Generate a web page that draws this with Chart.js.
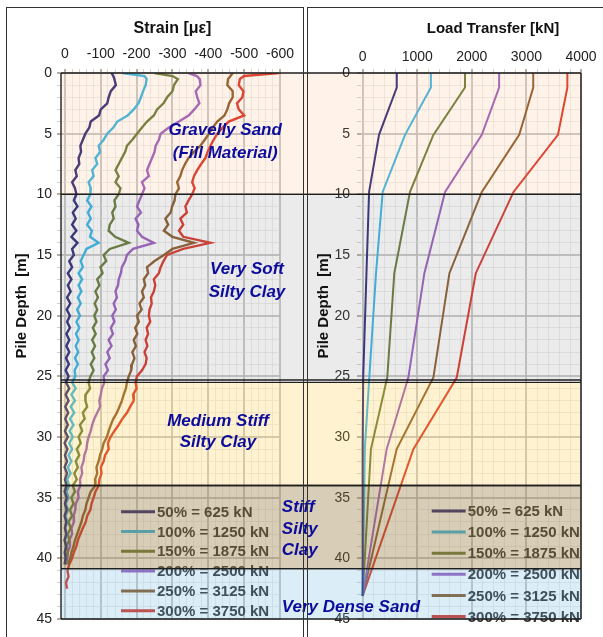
<!DOCTYPE html>
<html>
<head>
<meta charset="utf-8">
<script src="https://cdn.jsdelivr.net/npm/chart.js@4.4.1/dist/chart.umd.min.js"></script>
<style>
  body { margin: 0; background: #fff; width: 603px; height: 637px; overflow: hidden; position: relative; }
  #strainBox { position: absolute; left: 0; top: 0; width: 304px; height: 637px; }
  #loadBox { position: absolute; left: 270px; top: 0; width: 333px; height: 637px; }
  .frame { position: absolute; box-sizing: border-box; border: 1px solid #333; pointer-events: none; }
</style>
</head>
<body>
<div id="strainBox"><canvas id="strainChart"></canvas></div>
<div id="loadBox"><canvas id="loadChart"></canvas></div>
<div class="frame" style="left:6px;top:7px;width:298px;height:640px"></div>
<div class="frame" style="left:307px;top:7px;width:310px;height:640px"></div>
<script>
// ---- data ----
const seriesLabels = ['50% = 625 kN', '100% = 1250 kN', '150% = 1875 kN', '200% = 2500 kN', '250% = 3125 kN', '300% = 3750 kN'];
const seriesColors = ['#2d2a78', '#35b6e6', '#66793a', '#9a5ebf', '#8a5a2b', '#d8352a'];

// strain profile depths [m]
const strainDepth = [0, 0.25, 0.5, 1, 1.5, 2, 2.5, 3, 3.5, 4,
  4.5, 5, 5.5, 6, 6.5, 7, 7.5, 8, 8.5, 9,
  9.5, 10, 10.5, 11, 11.5, 12, 12.5, 13, 13.5, 14,
  14.5, 15, 15.5, 16, 16.5, 17, 17.5, 18, 18.5, 19,
  19.5, 20, 20.5, 21, 21.5, 22, 22.5, 23, 23.5, 24,
  24.5, 25, 25.5, 26, 26.5, 27, 27.5, 28, 28.5, 29,
  29.5, 30, 30.5, 31, 31.5, 32, 32.5, 33, 33.5, 34,
  34.5, 35, 35.5, 36, 36.5, 37, 37.5, 38, 38.5, 39,
  39.5, 40, 40.5, 41, 41.5, 42, 42.5];

// strain [microstrain]
const strain50 = [-130, -135, -138, -142, -128, -122, -118, -100, -95, -72,
  -68, -57, -50, -43, -45, -38, -40, -29, -33, -20,
  -28, -32, -25, -35, -22, -30, -20, -32, -18, -35,
  -20, -25, -12, -20, -8, -18, -8, -16, -6, -15,
  -5, -14, -6, -14, -4, -12, -4, -12, -3, -11,
  -2, -10, -3, -12, -2, -10, -1, -9, -1, -8,
  0, -8, 1, -7, 0, -6, 1, -6, 0, -5,
  1, -5, 0, -5, 1, -4, 0, -4, 1, -3,
  0, -2, 1];
const strain100 = [-160, -222, -228, -225, -218, -212, -205, -192, -175, -146,
  -135, -118, -108, -94, -98, -85, -90, -76, -80, -66,
  -72, -71, -62, -74, -64, -72, -62, -75, -70, -94,
  -60, -52, -44, -50, -38, -48, -38, -46, -36, -44,
  -34, -42, -32, -40, -31, -38, -30, -37, -28, -36,
  -27, -29, -20, -30, -18, -28, -16, -26, -14, -24,
  -13, -22, -12, -20, -10, -18, -8, -16, -6, -12,
  -4, -10, -2, -9, -1, -7, 0, -6, 0, -4,
  1, -2, 0];
const strain150 = [-250, -300, -315, -304, -300, -285, -275, -257, -248, -229,
  -215, -201, -188, -173, -168, -159, -150, -141, -150, -141,
  -155, -150, -138, -141, -132, -136, -125, -122, -140, -178,
  -125, -108, -115, -99, -105, -90, -96, -85, -92, -83,
  -90, -82, -88, -78, -86, -76, -84, -75, -82, -72,
  -80, -71, -66, -70, -58, -57, -62, -50, -55, -42,
  -48, -38, -44, -33, -40, -30, -36, -26, -33, -22,
  -28, -18, -24, -14, -20, -10, -16, -8, -12, -4,
  -8, -2, -4];
const strain200 = [-345, -368, -376, -378, -365, -369, -375, -361, -345, -318,
  -290, -267, -262, -253, -250, -243, -236, -229, -234, -215,
  -222, -215, -208, -201, -212, -197, -205, -201, -215, -248,
  -190, -173, -168, -159, -156, -150, -148, -141, -145, -136,
  -142, -132, -138, -128, -134, -122, -130, -118, -125, -113,
  -120, -108, -110, -103, -100, -96, -98, -90, -82, -76,
  -72, -66, -62, -60, -54, -52, -46, -48, -42, -43,
  -36, -38, -30, -29, -24, -25, -18, -20, -12, -14,
  -8, -7, -3];
const strain250 = [-468, -462, -455, -453, -468, -468, -458, -453, -445, -425,
  -412, -402, -390, -378, -360, -345, -335, -327, -322, -313,
  -318, -308, -306, -299, -295, -280, -288, -276, -300, -360,
  -300, -276, -250, -229, -232, -220, -224, -215, -220, -208,
  -214, -201, -206, -196, -202, -192, -198, -188, -194, -187,
  -185, -178, -173, -170, -164, -159, -152, -145, -135, -128,
  -122, -117, -108, -104, -98, -94, -88, -90, -84, -85,
  -72, -66, -60, -57, -50, -46, -40, -34, -28, -24,
  -18, -15, -8];
const strain300 = [-597, -500, -488, -485, -498, -495, -480, -485, -500, -457,
  -440, -425, -415, -406, -398, -392, -380, -369, -360, -355,
  -362, -355, -345, -336, -340, -322, -330, -318, -330, -406,
  -330, -285, -275, -267, -262, -248, -252, -248, -240, -242,
  -236, -234, -238, -228, -232, -225, -230, -222, -228, -225,
  -215, -201, -197, -200, -190, -192, -182, -173, -160, -150,
  -138, -127, -120, -122, -112, -108, -100, -102, -96, -94,
  -85, -80, -74, -71, -62, -58, -50, -43, -36, -32,
  -25, -20, -12, -7, -10, -3, -6];

// load transfer profile
const loadDepth = [0, 1.2, 5.1, 9.8, 16.5, 25.1, 31, 43.1];
const load50 = [625, 625, 300, 118, 70, 10, 0, 0];
const load100 = [1250, 1250, 776, 367, 245, 122, 40, 0];
const load150 = [1875, 1875, 1296, 868, 580, 451, 152, 0];
const load200 = [2500, 2500, 2183, 1510, 1131, 837, 440, 0];
const load250 = [3125, 3125, 2868, 2183, 1590, 1296, 624, 0];
const load300 = [3750, 3750, 3578, 2764, 2073, 1724, 929, 0];

// tick labels
const strainTicks = [0, -100, -200, -300, -400, -500, -600];
const loadTicks = [0, 1000, 2000, 3000, 4000];
const depthTicks = [0, 5, 10, 15, 20, 25, 30, 35, 40, 45];

// soil layers
const layerTop = [0, 10, 25.5, 34, 40.85];
const layerBottom = [10, 25.3, 34, 40.85, 45];
const layerFill = ['rgba(245,170,110,0.15)', 'rgba(128,128,128,0.16)', 'rgba(255,200,60,0.24)',
  'rgba(150,120,60,0.37)', 'rgba(100,180,220,0.23)'];

// ---- helpers ----
Chart.defaults.font.family = '"Liberation Sans", Arial, sans-serif';
Chart.defaults.color = '#222';

function steps(from, to, step) {
  const out = [];
  const n = Math.round((to - from) / step);
  for (let i = 0; i <= n; i++) out.push({ value: Math.round((from + i * step) * 100) / 100 });
  return out;
}

function toPoints(xs, ys) {
  return xs.map((v, i) => ({ x: v, y: ys[i] }));
}

function gridFor(majors) {
  const isMajor = c => c.tick && majors.includes(c.tick.value);
  return {
    color: c => isMajor(c) ? 'rgba(190,190,190,0.85)' : 'rgba(215,215,215,0.45)',
    lineWidth: c => isMajor(c) ? 2 : 1,
    tickColor: c => isMajor(c) ? '#b9ada1' : '#d8d0c6',
    tickLength: 4
  };
}

const depthScale = (width, pad) => ({
  type: 'linear', min: 0, max: 45, reverse: true,
  afterFit: s => { s.width = width; },
  afterBuildTicks: s => { s.ticks = steps(0, 45, 1); },
  ticks: {
    autoSkip: false, padding: pad, color: '#222', font: { size: 14 },
    callback: v => depthTicks.includes(v) ? String(v) : ''
  },
  grid: gridFor(depthTicks),
  border: { display: false }
});

function overlayPlugin(cfg) {
  return {
    id: 'soilOverlay',
    afterDatasetsDraw(chart) {
      const ctx = chart.ctx, area = chart.chartArea, ys = chart.scales.y, xs = chart.scales.x;
      const x0 = cfg.bandFrom(chart), x1 = cfg.bandTo(chart);
      ctx.save();

      // legend (under the band tint)
      ctx.font = 'bold 15px "Liberation Sans", Arial, sans-serif';
      ctx.textBaseline = 'middle';
      ctx.textAlign = 'left';
      chart.data.datasets.forEach((ds, i) => {
        const ly = area.top + cfg.legendTop + i * cfg.legendStep;
        const lx = area.left + cfg.legendLeft;
        ctx.strokeStyle = ds.borderColor;
        ctx.lineWidth = 3;
        ctx.beginPath();
        ctx.moveTo(lx, ly);
        ctx.lineTo(lx + 34, ly);
        ctx.stroke();
        ctx.fillStyle = '#333';
        ctx.fillText(ds.label, lx + 36, ly + 1);
      });

      // soil layer tint
      layerTop.forEach((top, i) => {
        const ya = ys.getPixelForValue(top), yb = ys.getPixelForValue(layerBottom[i]);
        ctx.fillStyle = layerFill[i];
        ctx.fillRect(x0, ya, x1 - x0, yb - ya);
      });
      ctx.strokeStyle = '#1e1e1e';
      ctx.lineWidth = 1.4;
      layerTop.forEach((top, i) => {
        const ya = ys.getPixelForValue(top), yb = ys.getPixelForValue(layerBottom[i]);
        ctx.beginPath();
        ctx.moveTo(x0, ya); ctx.lineTo(x1, ya);
        ctx.moveTo(x0, yb); ctx.lineTo(x1, yb);
        ctx.stroke();
      });
      ctx.beginPath();
      const ex = cfg.edge === 'left' ? area.left : area.right;
      ctx.moveTo(ex, ys.getPixelForValue(0));
      ctx.lineTo(ex, ys.getPixelForValue(45));
      ctx.stroke();

      // layer names
      ctx.fillStyle = '#0c0c9c';
      ctx.font = 'italic bold 17px "Liberation Sans", Arial, sans-serif';
      cfg.labels.forEach(l => {
        ctx.textAlign = l.align;
        l.text.forEach((t, k) => ctx.fillText(t, xs.getPixelForValue(l.x), ys.getPixelForValue(l.depth[k])));
      });

      // axis titles
      ctx.fillStyle = '#111';
      ctx.font = 'bold ' + cfg.xTitleSize + 'px "Liberation Sans", Arial, sans-serif';
      ctx.textAlign = 'center';
      ctx.fillText(cfg.xTitle, (area.left + area.right) / 2 + cfg.xTitleShift, 29);
      ctx.font = 'bold 15px "Liberation Sans", Arial, sans-serif';
      ctx.translate(area.left - cfg.yTitleGap, 306);
      ctx.rotate(-Math.PI / 2);
      ctx.fillText('Pile Depth  [m]', 0, 0);
      ctx.restore();
    }
  };
}

// ---- strain chart ----
const strainSeries = [strain50, strain100, strain150, strain200, strain250, strain300];
new Chart(document.getElementById('strainChart'), {
  type: 'scatter',
  data: {
    datasets: strainSeries.map((s, i) => ({
      label: seriesLabels[i],
      data: toPoints(s, strainDepth),
      showLine: true,
      borderColor: seriesColors[i],
      backgroundColor: seriesColors[i],
      borderWidth: 2.4,
      pointRadius: 0,
      tension: 0
    }))
  },
  options: {
    responsive: true,
    maintainAspectRatio: false,
    animation: false,
    devicePixelRatio: 1,
    layout: { padding: { left: 0, right: 24, top: 0, bottom: 18 } },
    plugins: { legend: { display: false }, tooltip: { enabled: false } },
    scales: {
      x: {
        type: 'linear', position: 'top', min: -600, max: 11, reverse: true,
        afterFit: s => { s.height = 73; },
        afterBuildTicks: s => { s.ticks = steps(0, -600, -20); },
        ticks: {
          autoSkip: false, maxRotation: 0, padding: 6, color: '#222', font: { size: 14 },
          callback: v => strainTicks.includes(v) ? String(v) : ''
        },
        grid: gridFor(strainTicks),
        border: { display: false }
      },
      y: depthScale(61, 5)
    }
  },
  plugins: [overlayPlugin({
    bandFrom: c => c.chartArea.left,
    bandTo: c => c.width,
    edge: 'left',
    legendLeft: 60, legendTop: 438.7, legendStep: 19.8,
    xTitle: 'Strain [\u03bc\u03b5]', xTitleSize: 16, xTitleShift: 2, yTitleGap: 39,
    labels: [
      { text: ['Gravelly Sand', '(Fill Material)'], x: -447, depth: [4.7, 6.6], align: 'center' },
      { text: ['Very Soft', 'Silty Clay'], x: -508, depth: [16.15, 18.05], align: 'center' },
      { text: ['Medium Stiff', 'Silty Clay'], x: -427, depth: [28.7, 30.4], align: 'center' }
    ]
  })]
});

// ---- load transfer chart ----
const loadSeries = [load50, load100, load150, load200, load250, load300];
new Chart(document.getElementById('loadChart'), {
  type: 'scatter',
  data: {
    datasets: loadSeries.map((s, i) => ({
      label: seriesLabels[i],
      data: toPoints(s, loadDepth),
      showLine: true,
      borderColor: seriesColors[i],
      backgroundColor: seriesColors[i],
      borderWidth: 2,
      pointRadius: 0,
      tension: 0
    }))
  },
  options: {
    responsive: true,
    maintainAspectRatio: false,
    animation: false,
    devicePixelRatio: 1,
    layout: { padding: { left: 0, right: 22, top: 0, bottom: 18 } },
    plugins: { legend: { display: false }, tooltip: { enabled: false } },
    scales: {
      x: {
        type: 'linear', position: 'top', min: -30, max: 4000,
        afterFit: s => { s.height = 73; },
        afterBuildTicks: s => { s.ticks = steps(0, 4000, 200); },
        ticks: {
          autoSkip: false, maxRotation: 0, padding: 3, color: '#222', font: { size: 14 },
          callback: v => loadTicks.includes(v) ? String(v) : ''
        },
        grid: gridFor(loadTicks),
        border: { display: false }
      },
      y: depthScale(91, 7)
    }
  },
  plugins: [overlayPlugin({
    bandFrom: c => 34,
    bandTo: c => c.chartArea.right,
    edge: 'right',
    legendLeft: 70.7, legendTop: 438, legendStep: 21.1,
    xTitle: 'Load Transfer [kN]', xTitleSize: 15, xTitleShift: 22, yTitleGap: 37,
    labels: [
      { text: ['Stiff', 'Silty', 'Clay'], x: -1480, depth: [35.8, 37.6, 39.3], align: 'left' },
      { text: ['Very Dense Sand'], x: -1480, depth: [44.0], align: 'left' }
    ]
  })]
});
</script>
</body>
</html>
